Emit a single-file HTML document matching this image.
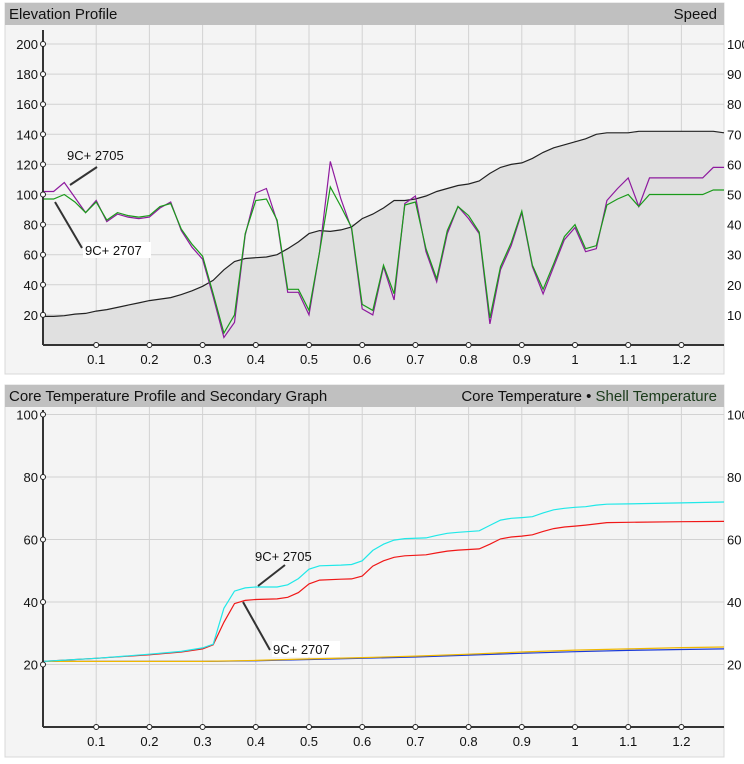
<!DOCTYPE html>
<html><head><meta charset="utf-8"><style>
body{margin:0;background:#fff;width:744px;height:764px;overflow:hidden;font-family:"Liberation Sans",Arial,sans-serif}
svg{display:block}
</style></head><body>
<svg id="c" width="744" height="764"></svg>
<script>
const xTicks=[0.1,0.2,0.3,0.4,0.5,0.6,0.7,0.8,0.9,1,1.1,1.2];
const xTickLabels=["0.1","0.2","0.3","0.4","0.5","0.6","0.7","0.8","0.9","1","1.1","1.2"];
const elevTicks=[20,40,60,80,100,120,140,160,180,200];
const speedTicks=[10,20,30,40,50,60,70,80,90,100];
const tempTicks=[20,40,60,80,100];
const elevation=[19,19,19.5,20.5,21,22.5,23.5,25,26.5,28,29.5,30.5,31.5,33.5,36,39,43,50,55.5,57.5,58,58.5,60,64,68.5,74,76,75.5,76.5,78.5,84,87,91,96,96,97,99,102,104,106,107,109,114,118,120,121,124,128,131,133,135,137,140,141,141,141,142,142,142,142,142,142,142,142,141];
const speed2705=[51,51,54,49,44,48,41,43.5,42.5,42,42.5,45.5,47.5,38,32.5,28.5,16,2.5,7.5,36.5,50.5,52,41,17.5,17.5,10,31,61,48.5,38.5,12,10,26,15,47,49.5,31,21,37,46,42,37,7,25,33,44,26,17,26,35,39,31,32,48,52,55.5,46,55.5,55.5,55.5,55.5,55.5,55.5,59,59];
const speed2707=[48.5,48.5,50,47.5,44,47.5,41.5,44,43,42.5,43,46,47,38.5,33.5,29.5,17,4,10,37,48,48.5,41.5,18.5,18.5,11.5,31,52.5,46,39,13.5,11.5,26.5,17,46.5,47.5,32,22,38,46,43,37.5,9,26,34,44.5,26.5,18.5,27,36,40,32,33,46.5,48.5,50,46,50,50,50,50,50,50,51.5,51.5];
const coreX=[0,0.1,0.2,0.26,0.3,0.32,0.34,0.36,0.38,0.4,0.44,0.46,0.48,0.5,0.52,0.56,0.58,0.6,0.62,0.64,0.66,0.68,0.72,0.74,0.76,0.78,0.82,0.84,0.86,0.88,0.9,0.92,0.94,0.96,0.98,1.0,1.02,1.04,1.06,1.1,1.2,1.28];
const core2705=[21,22,23.3,24.2,25.3,26.5,38,43.5,44.5,44.8,44.8,45.5,47.5,50.5,51.6,51.8,52,53.2,56.5,58.5,59.8,60.3,60.5,61.3,62,62.3,62.8,64.5,66.2,66.8,67,67.3,68.5,69.5,70,70.3,70.5,71,71.3,71.4,71.7,72];
const core2707=[21,22,23.1,24,25,26.3,33.5,39.5,40.5,40.8,41,41.5,43,45.8,47,47.3,47.4,48.3,51.5,53.2,54.3,54.8,55.1,55.7,56.3,56.6,57,58.5,60.2,60.8,61.1,61.5,62.6,63.5,64,64.3,64.6,65,65.4,65.5,65.7,65.8];
const shellX=[0,0.1,0.2,0.3,0.4,0.5,0.6,0.7,0.8,0.9,1.0,1.1,1.2,1.28];
const shell2705=[21,21,21,21,21.3,21.8,22.2,22.7,23.3,24,24.6,25,25.4,25.6];
const shell2707=[21,21,21,21,21.2,21.6,22,22.4,23,23.6,24.1,24.5,24.8,25];

const NS="http://www.w3.org/2000/svg",svg=document.getElementById('c');
function mk(t,a,p){const e=document.createElementNS(NS,t);for(const k in a)e.setAttribute(k,a[k]);(p||svg).appendChild(e);return e;}
const X0=43,XR=724,XS=532;
const xs=v=>X0+v*XS;
const yTop=v=>345-v*1.505;
const ySpeed=v=>345-v*3.01;
const yBot=v=>727-v*3.125;
const pts=(xa,ya,f)=>ya.map((v,i)=>xs(xa[i]).toFixed(1)+','+f(v).toFixed(1)).join(' ');
const stepX=elevation.map((_,i)=>i*0.02);

function panel(y0,y1,hy,title,ytf,ticks,rightTicks,rtf,axisY,name){
  const g=mk('g',{});
  
  
  mk('rect',{x:5,y:hy,width:719,height:y1-hy,fill:'#f4f4f4',stroke:'#d8d8d8'},g);
  const h=mk('rect',{x:5,y:hy,width:719,height:22,fill:'#c0c0c0'},g);
  
  
  xTicks.forEach(t=>mk('line',{x1:xs(t),x2:xs(t),y1:hy+22,y2:axisY,stroke:'#d2d2d2'},g));
  ticks.forEach(t=>mk('line',{x1:X0,x2:XR,y1:ytf(t),y2:ytf(t),stroke:'#d2d2d2'},g));
  return g;
}
function axes(g,axisY,topY,ytf,ticks,rtf,rticks){
  mk('line',{x1:X0,x2:X0,y1:topY,y2:axisY,stroke:'#333',"stroke-width":2},g);
  mk('line',{x1:X0,x2:XR,y1:axisY,y2:axisY,stroke:'#333',"stroke-width":2},g);
  ticks.forEach(t=>{
    const tx=mk('text',{x:X0-5,y:ytf(t)+5,"text-anchor":'end',"font-size":13,fill:'#111'},g);tx.textContent=t;
    
    
    mk('circle',{cx:X0,cy:ytf(t),r:2.5,fill:'#fff',stroke:'#222'},g);
  });
  rticks.forEach(t=>{
    const tx=mk('text',{x:727,y:rtf(t)+5,"font-size":13,fill:'#111'},g);tx.textContent=t;
    
    
  });
  xTicks.forEach((t,i)=>{
    mk('circle',{cx:xs(t),cy:axisY,r:2.5,fill:'#fff',stroke:'#222'},g);
    const tx=mk('text',{x:xs(t),y:axisY+19,"text-anchor":'middle',"font-size":13,fill:'#111'},g);tx.textContent=xTickLabels[i];
    
    
  });
}
function text(x,y,s,anchor,size,name,fill){const t=mk('text',{x:x,y:y,"text-anchor":anchor||'start',"font-size":size||15,fill:fill||'#111'});t.textContent=s;return t;}
function line(xa,ya,f,color,name,g){const l=mk('polyline',{points:pts(xa,ya,f),fill:'none',stroke:color,"stroke-width":1.2},g);}

// Top chart
const g1=panel(25,374,3,'Elevation Profile',yTop,elevTicks,speedTicks,ySpeed,345,'elevation-chart');
const area=mk('polygon',{points:xs(0)+',345 '+pts(stepX,elevation,yTop)+' '+xs(stepX[stepX.length-1])+',345',fill:'#e0e0e0',stroke:'none'},g1);


line(stepX,elevation,yTop,'#222','elevation-line',g1);
line(stepX,speed2705,ySpeed,'#8e1a9e','speed-2705-line',g1);
line(stepX,speed2707,ySpeed,'#1a9a1a','speed-2707-line',g1);
axes(g1,345,30,yTop,elevTicks,ySpeed,speedTicks);
text(9,19,'Elevation Profile','start',15,'chart-title');
text(717,19,'Speed','end',15,'right-axis-title');
mk('line',{x1:70,y1:185,x2:97,y2:167,stroke:'#333',"stroke-width":2});
text(67,160,'9C+ 2705','start',13,'annotation-2705');
mk('line',{x1:55,y1:202,x2:82,y2:248,stroke:'#333',"stroke-width":2});
mk('rect',{x:83,y:242,width:68,height:16,fill:'#fff'});
text(85,255,'9C+ 2707','start',13,'annotation-2707');

// Bottom chart
const g2=panel(407,757,385,'Core',yBot,tempTicks,tempTicks,yBot,727,'temperature-chart');
line(shellX,shell2707,yBot,'#1a3ad8','shell-2707-line',g2);
line(shellX,shell2705,yBot,'#f0b800','shell-2705-line',g2);
line(coreX,core2707,yBot,'#f01818','core-2707-line',g2);
line(coreX,core2705,yBot,'#20e8e8','core-2705-line',g2);
axes(g2,727,410,yBot,tempTicks,yBot,tempTicks);
text(9,401,'Core Temperature Profile and Secondary Graph','start',15,'chart-title-2');
const lg=text(717,401,'','end',15,'legend');
const a=mk('tspan',{fill:'#111'},lg);a.textContent='Core Temperature \u2022 ';
const b=mk('tspan',{fill:'#1a3a1a'},lg);b.textContent='Shell Temperature';
mk('line',{x1:258,y1:586,x2:285,y2:565,stroke:'#333',"stroke-width":2});
text(255,561,'9C+ 2705','start',13,'annotation-2705-bottom');
mk('line',{x1:243,y1:602,x2:270,y2:650,stroke:'#333',"stroke-width":2});
mk('rect',{x:272,y:641,width:68,height:16,fill:'#fff'});
text(273,654,'9C+ 2707','start',13,'annotation-2707-bottom');
</script>
</body></html>
